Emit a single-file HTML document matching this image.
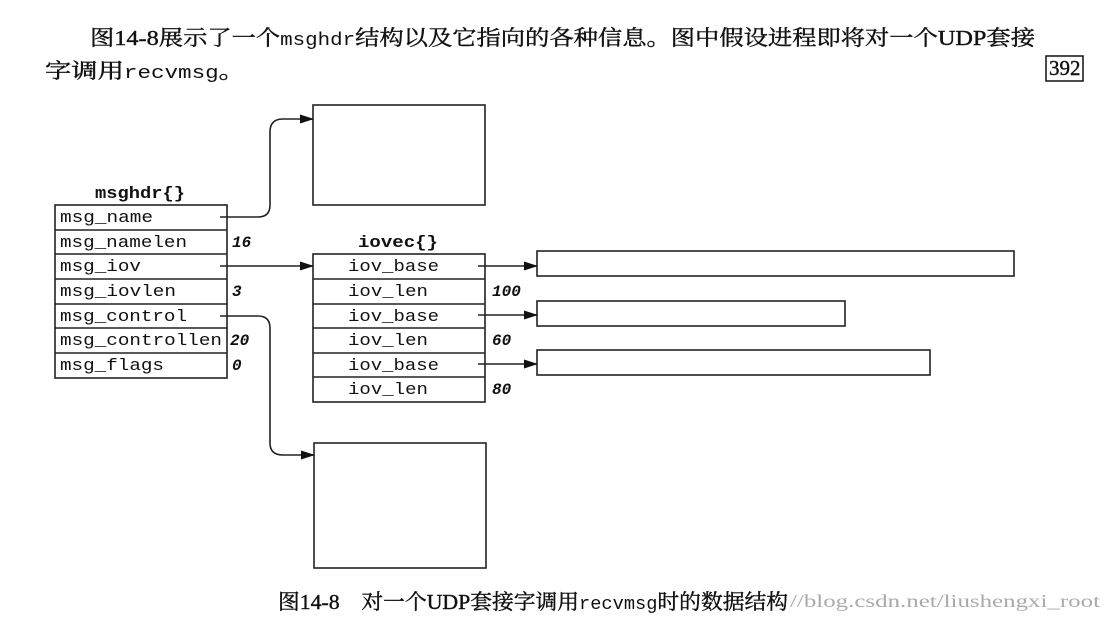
<!DOCTYPE html>
<html><head><meta charset="utf-8"><style>
body{margin:0;background:#fff;width:1112px;height:619px;overflow:hidden}
svg{display:block}
.m{font-family:"Liberation Mono",monospace;font-size:17px;fill:#111}
.i{font-family:"Liberation Mono",monospace;font-size:16px;font-style:italic;font-weight:bold;fill:#111}
.c{font-family:"Liberation Serif","Noto Serif CJK SC",serif;font-size:21px;fill:#111;stroke:#111;stroke-width:0.4}
</style></head><body>
<svg width="1112" height="619" viewBox="0 0 1112 619">
<defs><marker id="a" markerWidth="14" markerHeight="9" refX="13" refY="4.5" orient="auto" markerUnits="userSpaceOnUse"><path d="M0,0 L14,4.5 L0,9 z" fill="#111"/></marker></defs>
<text class="c" x="90" y="45" textLength="945" lengthAdjust="spacingAndGlyphs">图14-8展示了一个<tspan font-family="Liberation Mono" font-size="18" stroke-width="0">msghdr</tspan>结构以及它指向的各种信息。图中假设进程即将对一个UDP套接</text>
<text class="c" x="45" y="78" textLength="200" lengthAdjust="spacingAndGlyphs">字调用<tspan font-family="Liberation Mono" font-size="18" stroke-width="0">recvmsg</tspan>。</text>
<rect x="1046" y="56" width="37" height="25" fill="none" stroke="#111" stroke-width="1.5"/>
<text class="c" x="1049" y="75" font-size="18">392</text>
<g fill="none" stroke="#222" stroke-width="1.6">
<rect x="313" y="105" width="172" height="100"/>
<rect x="314" y="443" width="172" height="125"/>
<rect x="55" y="205" width="172" height="173"/>
<path d="M55 230H227M55 254H227M55 279H227M55 304H227M55 328H227M55 353H227"/>
<rect x="313" y="254" width="172" height="148"/>
<path d="M313 279H485M313 304H485M313 328H485M313 353H485M313 377H485"/>
<rect x="537" y="251" width="477" height="25"/>
<rect x="537" y="301" width="308" height="25"/>
<rect x="537" y="350" width="393" height="25"/>
<path d="M220 217H258Q270 217 270 205V132Q270 119 283 119H313" marker-end="url(#a)"/>
<path d="M220 316H258Q270 316 270 328V443Q270 455 283 455H314" marker-end="url(#a)"/>
<path d="M220 266H313" marker-end="url(#a)"/>
<path d="M478 266H537" marker-end="url(#a)"/>
<path d="M478 315H537" marker-end="url(#a)"/>
<path d="M478 364H537" marker-end="url(#a)"/>
</g>
<text class="m" x="95" y="198" font-weight="bold" textLength="90" lengthAdjust="spacingAndGlyphs">msghdr{}</text>
<text class="m" x="358" y="247" font-weight="bold" textLength="80" lengthAdjust="spacingAndGlyphs">iovec{}</text>
<g class="m" lengthAdjust="spacingAndGlyphs">
<text x="60" y="222" textLength="93" lengthAdjust="spacingAndGlyphs">msg_name</text>
<text x="60" y="247" textLength="127" lengthAdjust="spacingAndGlyphs">msg_namelen</text>
<text x="60" y="271" textLength="81" lengthAdjust="spacingAndGlyphs">msg_iov</text>
<text x="60" y="296" textLength="116" lengthAdjust="spacingAndGlyphs">msg_iovlen</text>
<text x="60" y="321" textLength="127" lengthAdjust="spacingAndGlyphs">msg_control</text>
<text x="60" y="345" textLength="162" lengthAdjust="spacingAndGlyphs">msg_controllen</text>
<text x="60" y="370" textLength="104" lengthAdjust="spacingAndGlyphs">msg_flags</text>
<text x="348" y="271" textLength="91" lengthAdjust="spacingAndGlyphs">iov_base</text>
<text x="348" y="296" textLength="80" lengthAdjust="spacingAndGlyphs">iov_len</text>
<text x="348" y="321" textLength="91" lengthAdjust="spacingAndGlyphs">iov_base</text>
<text x="348" y="345" textLength="80" lengthAdjust="spacingAndGlyphs">iov_len</text>
<text x="348" y="370" textLength="91" lengthAdjust="spacingAndGlyphs">iov_base</text>
<text x="348" y="394" textLength="80" lengthAdjust="spacingAndGlyphs">iov_len</text>
</g>
<g class="i">
<text x="232" y="247">16</text>
<text x="232" y="296">3</text>
<text x="230" y="345">20</text>
<text x="232" y="370">0</text>
<text x="492" y="296">100</text>
<text x="492" y="345">60</text>
<text x="492" y="394">80</text>
</g>
<text class="c" x="278" y="609" font-size="19" textLength="510" lengthAdjust="spacingAndGlyphs">图14-8　对一个UDP套接字调用<tspan font-family="Liberation Mono" font-size="18" stroke-width="0">recvmsg</tspan>时的数据结构</text>
<text x="790" y="607" font-family="Liberation Serif,serif" font-size="18" fill="#aaa" textLength="310" lengthAdjust="spacingAndGlyphs">//blog.csdn.net/liushengxi_root</text>
</svg>
</body></html>
